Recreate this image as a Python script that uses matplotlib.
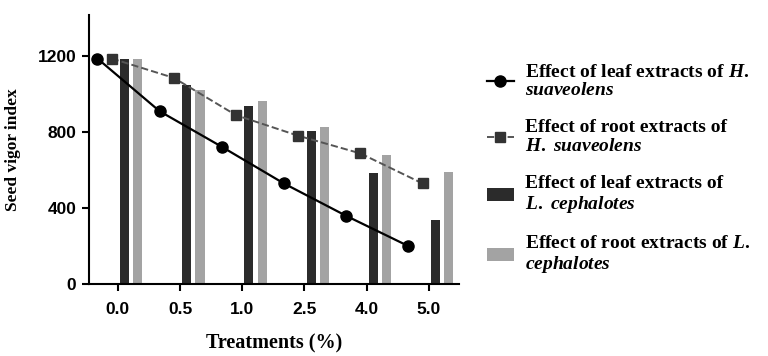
import matplotlib
matplotlib.use("Agg")
from matplotlib import pyplot as plt
import numpy as np

treatments = ["0.0", "0.5", "1.0", "2.5", "4.0", "5.0"]
leaf_hs = [1186, 909, 722, 529, 359, 200]
root_hs = [1186, 1084, 888, 780, 687, 529]
leaf_lc = [1186, 1046, 936, 806, 585, 336]
root_lc = [1186, 1020, 964, 827, 680, 589]

plt.rcParams['mathtext.fontset'] = 'custom'
plt.rcParams['mathtext.rm'] = 'Liberation Serif:bold'
plt.rcParams['mathtext.it'] = 'Liberation Serif:bold:italic'

fig = plt.figure(figsize=(7.68, 3.56), dpi=100)
ax = fig.add_axes([0.1155, 0.202, 0.4825, 0.756])

x = np.arange(len(treatments))
w = 0.145

ax.plot(x - 0.33, leaf_hs, '-o', color='black', lw=1.6, ms=8,
        label="Effect of leaf extracts of $\\mathit{H.}$\n$\\mathit{suaveolens}$")
ax.plot(x - 0.1, root_hs, '--s', color='#555555', mfc='#333333', mec='#333333', lw=1.4, ms=7.5,
        label="Effect of root extracts of\n$\\mathit{H.\\ suaveolens}$")
ax.bar(x + 0.107, leaf_lc, w, color='#2b2b2b', label="Effect of leaf extracts of\n$\\mathit{L.\\ cephalotes}$")
ax.bar(x + 0.32, root_lc, w, color='#a3a3a3', label="Effect of root extracts of $\\mathit{L.}$\n$\\mathit{cephalotes}$")

ax.set_xlim(-0.47, 5.49)
ax.set_ylim(0, 1415)
ax.set_xticks(x)
ax.set_xticklabels(treatments)
ax.set_yticks([0, 400, 800, 1200])
for s in ['top', 'right']:
    ax.spines[s].set_visible(False)
for s in ['left', 'bottom']:
    ax.spines[s].set_linewidth(1.5)
ax.tick_params(width=1.5, length=5, direction='out')
for lab in ax.get_xticklabels() + ax.get_yticklabels():
    lab.set_fontfamily('Liberation Sans')
    lab.set_fontweight('bold')
    lab.set_fontsize(12.5)
ax.tick_params(axis='x', pad=8)
ax.tick_params(axis='y', pad=4)

ax.set_ylabel("Seed vigor index", fontfamily='Liberation Serif', fontweight='bold', fontsize=12.5, labelpad=12)
ax.set_xlabel("Treatments (%)", fontfamily='Liberation Serif', fontweight='bold', fontsize=14.5, labelpad=12)

leg = ax.legend(loc='upper left', bbox_to_anchor=(0.611, 0.87), bbox_transform=fig.transFigure,
                frameon=False, prop={'family': 'Liberation Serif', 'weight': 'bold', 'size': 14},
                handlelength=1.4, handletextpad=0.55, labelspacing=1.05, borderpad=0.4)
for t in leg.get_texts():
    t.set_linespacing(1.1)

fig.savefig("out.png", dpi=100)
